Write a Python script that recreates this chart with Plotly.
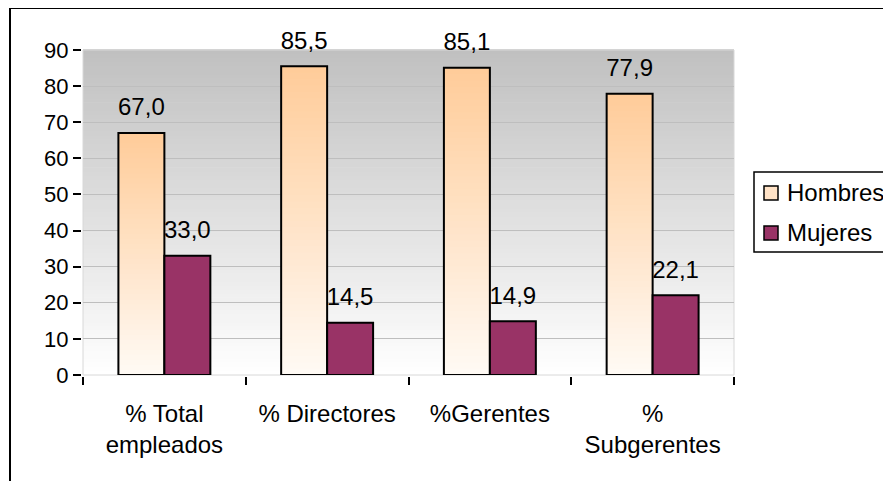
import plotly.graph_objects as go

# ---------------- data ----------------
categories = ["% Total<br>empleados", "% Directores", "%Gerentes", "%<br>Subgerentes"]
series_names = ["Hombres", "Mujeres"]
hombres = [67.0, 85.5, 85.1, 77.9]
mujeres = [33.0, 14.5, 14.9, 22.1]
y_ticks = [0, 10, 20, 30, 40, 50, 60, 70, 80, 90]

# ---------------- layout constants ----------------
OFF = 8                      # page body margin
W, H = 891 - OFF, 481 - OFF
L, R, T, B = 83 - OFF, 157, 50 - OFF, 106
PW = W - L - R
PH = H - T - B
FONT = "Liberation Sans, Arial, sans-serif"
HOM_TOP = (255, 204, 153)
HOM_BOT = (255, 250, 245)
BG_TOP = (192, 192, 192)
BG_BOT = (255, 255, 255)
MUJ = "#993366"
BARGAP = 0.435
NSL = 48   # gradient steps for bars
NBG = 80   # gradient steps for background


def px_x(px):
    # px given in page (reference) coordinates
    return (px - OFF - L) / PW


def px_y(py):
    return (H - B - (py - OFF)) / PH


def lerp(c1, c2, t):
    return "rgb(%d,%d,%d)" % tuple(round(a + (b - a) * t) for a, b in zip(c1, c2))


def fmt(v):
    return f"{v:.1f}".replace(".", ",")


fig = go.Figure()

# data labels (drawn behind the bars, like the original)
for name, vals, grp in [(series_names[0], hombres, "h"), (series_names[1], mujeres, "m")]:
    fig.add_trace(go.Scatter(
        x=categories, y=vals, mode="markers+text",
        text=[fmt(v) for v in vals], textposition="top center",
        textfont=dict(family=FONT, size=24, color="black"),
        marker=dict(size=17, color="rgba(0,0,0,0)"),
        offsetgroup=grp, showlegend=False, hoverinfo="skip", zorder=-1,
        cliponaxis=False,
    ))

# Hombres gradient: overlapping bars, tallest first
for k in range(NSL):
    frac = (NSL - k) / NSL
    col = lerp(HOM_BOT, HOM_TOP, (NSL - k - 0.5) / NSL)
    fig.add_trace(go.Bar(
        x=categories, y=[v * frac for v in hombres], offsetgroup="h",
        marker=dict(color=col, line=dict(width=0)),
        showlegend=False, hoverinfo="skip",
    ))

# Hombres outline
fig.add_trace(go.Bar(
    name=series_names[0], x=categories, y=hombres, offsetgroup="h",
    marker=dict(color="rgba(0,0,0,0)", line=dict(color="black", width=2)),
    showlegend=False,
))
# Mujeres
fig.add_trace(go.Bar(
    name=series_names[1], x=categories, y=mujeres, offsetgroup="m",
    marker=dict(color=MUJ, line=dict(color="black", width=2)),
    showlegend=False,
))

shapes = []
# plot background gradient
for i in range(NBG):
    t = (i + 0.5) / NBG
    shapes.append(dict(type="rect", xref="paper", yref="paper",
                       x0=0, x1=1, y0=i / NBG, y1=(i + 1) / NBG + 0.002,
                       fillcolor=lerp(BG_BOT, BG_TOP, t), line=dict(width=0),
                       layer="below"))
# faint plot frame
shapes.append(dict(type="rect", xref="paper", yref="paper", x0=0, x1=1, y0=0, y1=1,
                   line=dict(color="#D8D8D8", width=1), layer="below"))
# outer chart border
shapes.append(dict(type="rect", xref="paper", yref="paper",
                   x0=px_x(10), x1=px_x(980), y0=px_y(600), y1=px_y(8),
                   line=dict(color="black", width=2), fillcolor="rgba(0,0,0,0)"))
# legend box
shapes.append(dict(type="rect", xref="paper", yref="paper",
                   x0=px_x(754), x1=px_x(960), y0=px_y(252), y1=px_y(172),
                   line=dict(color="black", width=1.5), fillcolor="white"))
legend_cols = ["#FFE2C6", MUJ]
legend_y = [193, 233]
annotations = []
for name, col, cy in zip(series_names, legend_cols, legend_y):
    shapes.append(dict(type="rect", xref="paper", yref="paper",
                       x0=px_x(764), x1=px_x(778), y0=px_y(cy + 7), y1=px_y(cy - 7),
                       line=dict(color="black", width=1.5), fillcolor=col))
    annotations.append(dict(xref="paper", yref="paper", x=px_x(785), y=px_y(cy),
                            xanchor="left", yanchor="middle", showarrow=False,
                            text=name, font=dict(family=FONT, size=24, color="black")))

fig.update_layout(
    width=W, height=H,
    margin=dict(l=L, r=R, t=T, b=B, pad=0),
    paper_bgcolor="white", plot_bgcolor="white",
    barmode="group", bargap=BARGAP,
    scattermode="group", scattergap=BARGAP,
    showlegend=False,
    shapes=shapes, annotations=annotations,
    font=dict(family=FONT, size=22, color="black"),
)
fig.update_xaxes(
    type="category", tickson="boundaries", ticks="outside", ticklen=8, tickwidth=2,
    tickcolor="black", showline=True, linecolor="black", linewidth=2,
    showgrid=False, automargin=False, ticklabelstandoff=16,
    tickfont=dict(family=FONT, size=24, color="black"),
)
fig.update_yaxes(
    range=[0, 90], tickvals=y_ticks, ticks="outside", ticklen=8, tickwidth=2,
    tickcolor="black", showline=True, linecolor="black", linewidth=2,
    showgrid=True, gridcolor="#BEBEBE", gridwidth=1, zeroline=False,
    automargin=False, tickfont=dict(family=FONT, size=22, color="black"),
)

fig.write_html("out.html")
